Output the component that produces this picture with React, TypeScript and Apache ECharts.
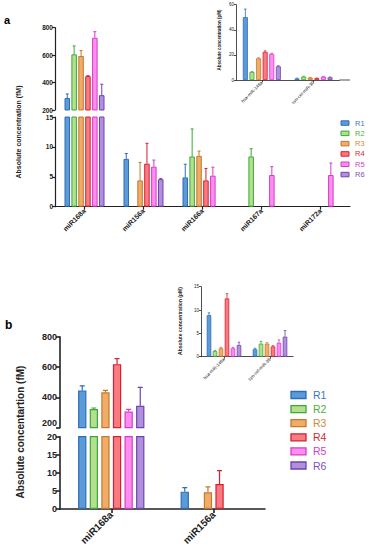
import React, { useEffect, useRef } from "react";
import * as echarts from "echarts";

const FONT = "Arial, 'Liberation Sans', Helvetica, sans-serif";

const replicates = ["R1", "R2", "R3", "R4", "R5", "R6"];
const fillColors = ["#5b9bd8", "#b2e08c", "#f2ac68", "#fa7a82", "#ff8cf0", "#b090dc"];
const borderColors = ["#2f6db5", "#3ca83a", "#c27a2e", "#d42030", "#d43cc8", "#6f42b0"];
const textColors = ["#3a78c0", "#4caf3a", "#d08a38", "#d02a34", "#d040c8", "#7a52bc"];

// Panel a, main chart (fM)
const aCategories = ["miR168a", "miR156a", "miR166a", "miR167a", "miR172a"];
const aValues = [
  [287, 8.0, 4.9, null, null],
  [606, null, 8.4, 8.4, null],
  [594, 4.4, 8.5, null, null],
  [447, 7.2, 4.4, null, null],
  [727, 6.7, 5.2, 5.3, 5.3],
  [308, 4.6, null, null, null],
];
const aErrors = [
  [30, 0.9, 2.2, null, null],
  [61, null, 4.6, 1.3, null],
  [39, 3.0, 0.8, null, null],
  [3, 3.4, 2.0, null, null],
  [44, 1.1, 1.4, 1.4, 2.0],
  [80, 0.1, null, null, null],
];

// Panel a, inset (pM)
const aInsetCategories = ["hsa-miR-148a", "syn-cel-miR-39"];
const aInsetValues = [
  [50.1, 1.2],
  [6.4, 2.7],
  [17.3, 1.9],
  [22.4, 1.4],
  [20.8, 2.7],
  [10.9, 2.1],
];
const aInsetErrors = [
  [6.4, 0.3],
  [0.3, 0.3],
  [0.4, 0.2],
  [0.8, 0.2],
  [0.5, 0.2],
  [0.5, 0.3],
];

// Panel b, main chart (fM)
const bCategories = ["miR168a", "miR156a"];
const bValues = [
  [446, 4.8],
  [323, null],
  [433, 4.6],
  [619, 6.9],
  [306, null],
  [345, null],
];
const bErrors = [
  [30, 1.1],
  [7, null],
  [13, 1.5],
  [37, 3.7],
  [15, null],
  [121, null],
];

// Panel b, inset (pM)
const bInsetCategories = ["hsa-miR-148a", "syn-cel-miR-39"];
const bInsetValues = [
  [8.9, 1.6],
  [1.2, 2.8],
  [1.8, 2.8],
  [12.5, 2.2],
  [1.8, 3.0],
  [2.5, 4.3],
];
const bInsetErrors = [
  [0.5, 0.2],
  [0.15, 0.5],
  [0.2, 0.2],
  [1.0, 0.15],
  [0.2, 0.6],
  [0.6, 1.3],
];

function addPanel(opt: any, p: any) {
  const axisColor = "#222";
  p.grids.forEach((g: any) => {
    const gi = opt.grid.length;
    opt.grid.push({ left: p.left, top: g.top, width: p.width, height: g.height, containLabel: false });
    opt.xAxis.push({
      type: "category",
      gridIndex: gi,
      data: p.categories,
      show: g.showX,
      axisLine: { show: g.showX, lineStyle: { color: axisColor, width: p.axisWidth } },
      axisTick: { show: g.showX, alignWithLabel: true, length: p.tickLen, lineStyle: { color: axisColor, width: p.axisWidth } },
      axisLabel: {
        show: g.showX,
        interval: 0,
        rotate: 45,
        fontSize: p.xFont,
        fontWeight: p.bold ? "bold" : "normal",
        color: axisColor,
        fontFamily: FONT,
        margin: p.xMargin,
      },
      splitLine: { show: false },
    });
    const yLabel: any = {
      fontSize: p.yFont,
      fontWeight: p.bold ? "bold" : "normal",
      color: axisColor,
      fontFamily: FONT,
      margin: p.yMargin,
    };
    if (g.minLabelUp) yLabel.verticalAlignMinLabel = "bottom";
    if (g.maxLabelDown) yLabel.verticalAlignMaxLabel = "top";
    opt.yAxis.push({
      type: "value",
      gridIndex: gi,
      min: g.min,
      max: g.max,
      interval: g.interval,
      axisLine: { show: true, lineStyle: { color: axisColor, width: p.axisWidth } },
      axisTick: { show: true, length: p.tickLen, lineStyle: { color: axisColor, width: p.axisWidth } },
      axisLabel: yLabel,
      splitLine: { show: false },
    });
    const pitch = p.barWidth + p.barGapPx;
    replicates.forEach((name, ri) => {
      const vals = p.values[ri].map((v: any) => (v == null ? null : g.min > 0 && v < g.min ? null : v));
      opt.series.push({
        type: "bar",
        name,
        xAxisIndex: gi,
        yAxisIndex: gi,
        data: vals,
        barWidth: p.barWidth,
        barGap: (p.barGapPx / p.barWidth) * 100 + "%",
        itemStyle: { color: fillColors[ri], borderColor: borderColors[ri], borderWidth: p.barBorder },
        clip: true,
        silent: true,
      });
      const errData: any[] = [];
      p.values[ri].forEach((v: any, ci: number) => {
        const e = p.errors[ri][ci];
        if (v == null || e == null) return;
        if (v < g.min || v > g.max) return;
        errData.push([ci, v, e]);
      });
      const offset = (ri - 2.5) * pitch;
      const cap = p.capWidth / 2;
      opt.series.push({
        type: "custom",
        xAxisIndex: gi,
        yAxisIndex: gi,
        data: errData,
        clip: true,
        silent: true,
        encode: { x: 0, y: 1 },
        renderItem: (params: any, api: any) => {
          const ci = api.value(0);
          const v = api.value(1);
          const e = api.value(2);
          const b = api.coord([ci, v]);
          const t = api.coord([ci, v + e]);
          const x = b[0] + offset;
          const st = { stroke: borderColors[ri], lineWidth: p.errWidth };
          return {
            type: "group",
            children: [
              { type: "line", shape: { x1: x, y1: b[1], x2: x, y2: t[1] }, style: st },
              { type: "line", shape: { x1: x - cap, y1: t[1], x2: x + cap, y2: t[1] }, style: st },
            ],
          };
        },
      });
    });
  });
}

function txt(x: number, y: number, text: string, size: number, opts: any = {}) {
  const align = opts.align || "left";
  return {
    type: "text",
    x,
    y,
    rotation: opts.rotation || 0,
    silent: true,
    style: {
      text,
      fontSize: size,
      fontWeight: opts.weight || "normal",
      fontFamily: FONT,
      fill: opts.color || "#222",
      align,
      verticalAlign: "middle",
      textAlign: align,
      textVerticalAlign: "middle",
    },
  };
}

function buildOption() {
  const opt: any = { animation: false, backgroundColor: "#fff", grid: [], xAxis: [], yAxis: [], series: [], graphic: [] };

  addPanel(opt, {
    categories: aCategories, values: aValues, errors: aErrors,
    left: 55, width: 295,
    grids: [
      { top: 27.7, height: 82.3, min: 200, max: 800, interval: 200, showX: false },
      { top: 117, height: 89.7, min: 0, max: 15, interval: 5, showX: true },
    ],
    barWidth: 5.5, barGapPx: 1.4, barBorder: 1, capWidth: 3, errWidth: 1,
    axisWidth: 1.2, tickLen: 3, xFont: 7, yFont: 6.5, xMargin: 3, yMargin: 2, bold: true,
  });

  addPanel(opt, {
    categories: aInsetCategories, values: aInsetValues, errors: aInsetErrors,
    left: 236, width: 103.4,
    grids: [{ top: 4.7, height: 75.3, min: 0, max: 60, interval: 20, showX: true }],
    barWidth: 5, barGapPx: 1.6, barBorder: 0.8, capWidth: 2.5, errWidth: 0.8,
    axisWidth: 0.8, tickLen: 2, xFont: 4.5, yFont: 4.5, xMargin: 2, yMargin: 2, bold: false,
  });

  addPanel(opt, {
    categories: bCategories, values: bValues, errors: bErrors,
    left: 60, width: 205,
    grids: [
      { top: 336.7, height: 91, min: 200, max: 800, interval: 200, showX: false, minLabelUp: true },
      { top: 436.7, height: 72.3, min: 0, max: 20, interval: 5, showX: true },
    ],
    barWidth: 8.3, barGapPx: 3.3, barBorder: 1.2, capWidth: 5, errWidth: 1.2,
    axisWidth: 1.6, tickLen: 4, xFont: 10, yFont: 9, xMargin: 4, yMargin: 3, bold: true,
  });

  addPanel(opt, {
    categories: bInsetCategories, values: bInsetValues, errors: bInsetErrors,
    left: 201, width: 92,
    grids: [{ top: 286.7, height: 70, min: 0, max: 15, interval: 5, showX: true }],
    barWidth: 4.5, barGapPx: 1.5, barBorder: 0.8, capWidth: 2.5, errWidth: 0.8,
    axisWidth: 0.8, tickLen: 2, xFont: 4.5, yFont: 4.5, xMargin: 2, yMargin: 2, bold: false,
  });

  const g: any[] = opt.graphic;
  g.push(txt(4, 20, "a", 11, { weight: "bold", color: "#000" }));
  g.push(txt(5, 325, "b", 12, { weight: "bold", color: "#000" }));
  g.push(txt(18, 132, "Absolute concentration (fM)", 7, { weight: "bold", align: "center", rotation: Math.PI / 2 }));
  g.push(txt(20, 432, "Absolute concentartion (fM)", 10, { weight: "bold", align: "center", rotation: Math.PI / 2 }));
  g.push(txt(219, 40, "Absolute concentration (pM)", 4.5, { weight: "bold", align: "center", rotation: Math.PI / 2 }));
  g.push(txt(180, 321, "Absolute concentration (pM)", 5, { weight: "bold", align: "center", rotation: Math.PI / 2 }));
  // inset a x axis extension
  g.push({ type: "line", silent: true, shape: { x1: 339.4, y1: 80, x2: 350, y2: 80 }, style: { stroke: "#222", lineWidth: 0.8 } });

  replicates.forEach((name, i) => {
    const ya = 123 + i * 10.3;
    g.push({ type: "rect", silent: true, shape: { x: 341, y: ya - 2.2, width: 8, height: 4.5 }, style: { fill: fillColors[i], stroke: borderColors[i], lineWidth: 1 } });
    g.push(txt(355, ya, name, 7.5, { color: textColors[i] }));
    const yb = 395 + i * 14.1;
    g.push({ type: "rect", silent: true, shape: { x: 291, y: yb - 3.5, width: 15, height: 7 }, style: { fill: fillColors[i], stroke: borderColors[i], lineWidth: 1.3 } });
    g.push(txt(313, yb, name, 10.5, { color: textColors[i] }));
  });

  return opt;
}

export default function App() {
  const ref = useRef<HTMLDivElement>(null);
  useEffect(() => {
    if (!ref.current) return;
    const chart = echarts.init(ref.current, undefined, { renderer: "svg" });
    chart.setOption(buildOption());
    return () => chart.dispose();
  }, []);
  return (
    <div
      ref={ref}
      style={{ position: "absolute", left: 0, top: 0, width: 369, height: 550, background: "#fff" }}
    />
  );
}
